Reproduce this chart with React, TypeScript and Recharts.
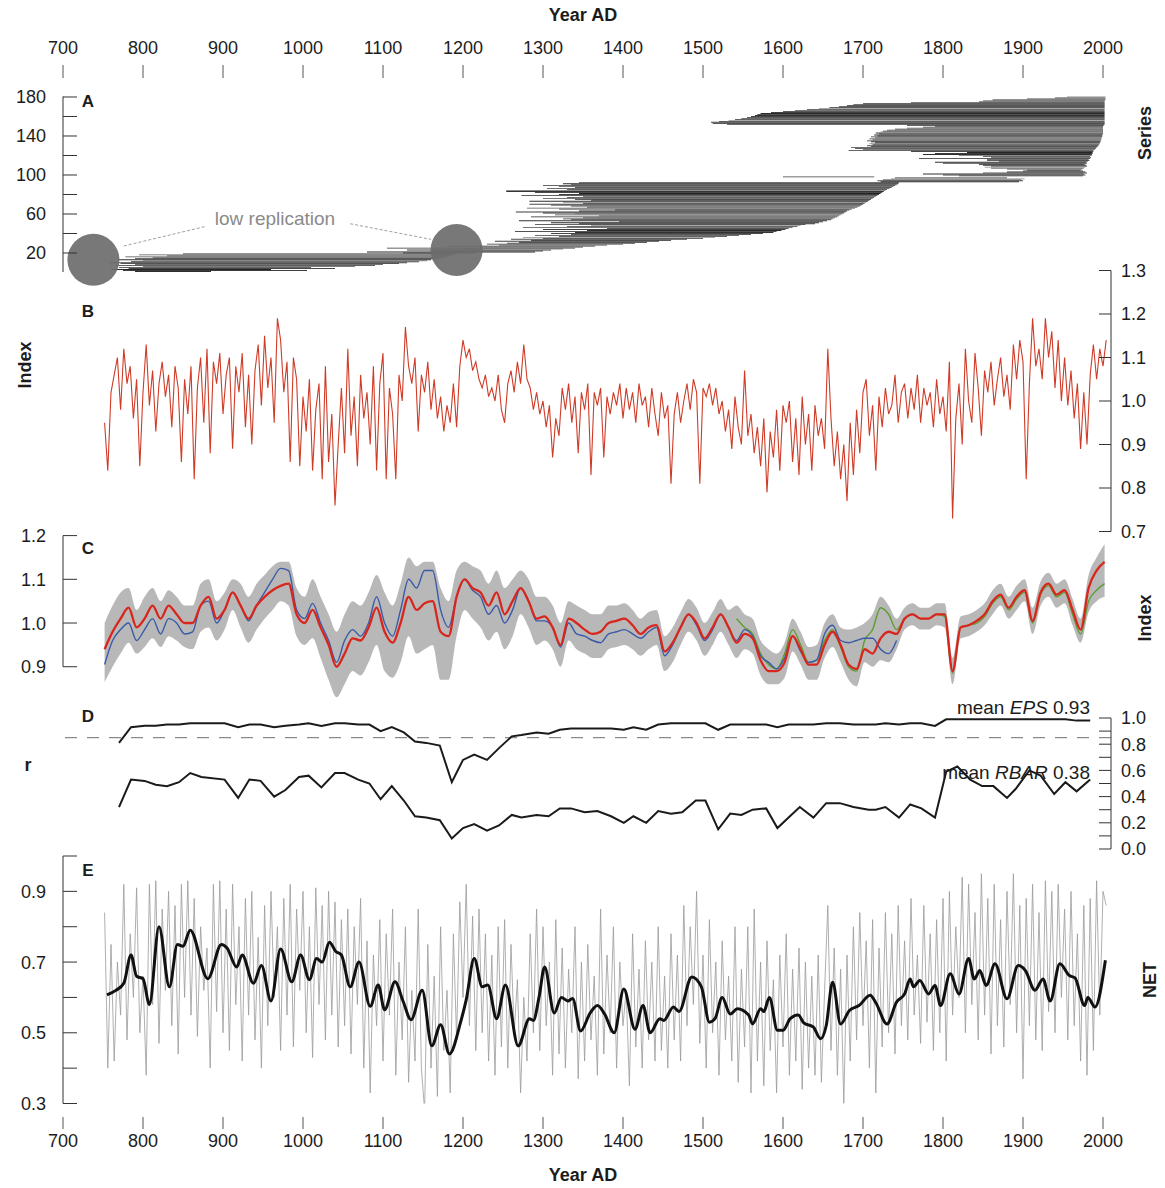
import React from 'react';
import {
  BarChart,
  Bar,
  Cell,
  ComposedChart,
  Line,
  Area,
  XAxis,
  YAxis,
  ReferenceLine,
  ReferenceDot,
} from 'recharts';

const FONT = '"Liberation Sans", Arial, Helvetica, sans-serif';
const INK = '#1c1c1c';
const AXIS = '#333';
const W = 1165;
const X_DOMAIN: [number, number] = [700, 2010];
const LEFT_AXIS_X = 63;
const RIGHT_AXIS_X = 1111;

const yearTicks = [700, 800, 900, 1000, 1100, 1200, 1300, 1400, 1500, 1600, 1700, 1800, 1900, 2000];

// A: first / last year of every series, from series 1 (bottom) to 180 (top)
const seriesStart = [
  790, 775, 760, 782, 770, 800, 765, 790, 772, 758,
  785, 800, 768, 790, 812, 778, 830, 795, 850, 1125,
  1080, 1160, 1130, 1200, 1105, 1220, 1180, 1245, 1230, 1255,
  1270, 1240, 1285, 1260, 1300, 1275, 1320, 1290, 1335, 1310,
  1340, 1265, 1355, 1300, 1380, 1275, 1330, 1360, 1290, 1345,
  1310, 1395, 1270, 1335, 1325, 1350, 1285, 1370, 1315, 1340,
  1300, 1266, 1345, 1390, 1320, 1280, 1355, 1335, 1310, 1283,
  1350, 1325, 1283, 1360, 1340, 1300, 1330, 1350, 1273, 1320,
  1345, 1290, 1254, 1254, 1330, 1305, 1340, 1320, 1300, 1335,
  1325, 1345, 1722, 1718, 1725, 1735, 1740, 1600, 1820, 1800,
  1775, 1850, 1880, 1900, 1905, 1880, 1860, 1852, 1860, 1850,
  1845, 1800, 1790, 1870, 1855, 1855, 1770, 1860, 1850, 1820,
  1775, 1790, 1830, 1760, 1682, 1700, 1690, 1685, 1710, 1705,
  1712, 1708, 1715, 1710, 1705, 1712, 1708, 1715, 1710, 1718,
  1714, 1720, 1716, 1722, 1725, 1730, 1740, 1755, 1775, 1790,
  1755, 1530, 1512, 1510, 1520, 1532, 1540, 1548, 1555, 1560,
  1565, 1568, 1572, 1585, 1600, 1615, 1630, 1645, 1658, 1670,
  1680, 1688, 1700, 1760, 1845, 1850, 1862, 1905, 1940, 1955,
];
const seriesEnd = [
  885, 1005, 960, 1040, 1010, 1065, 1090, 1100, 1120, 1130,
  1145, 1155, 1160, 1168, 1175, 1180, 1185, 1188, 1192, 1215,
  1290, 1300, 1310, 1325, 1340, 1350, 1365, 1380, 1400, 1415,
  1430, 1445, 1460, 1480, 1500, 1515, 1530, 1545, 1560, 1575,
  1588, 1592, 1598, 1603, 1607, 1612, 1618, 1622, 1628, 1640,
  1645, 1650, 1655, 1660, 1662, 1665, 1668, 1670, 1672, 1674,
  1676, 1678, 1680, 1683, 1686, 1690, 1693, 1696, 1698, 1700,
  1702, 1704, 1706, 1708, 1710, 1712, 1714, 1716, 1718, 1720,
  1722, 1724, 1726, 1728, 1730, 1733, 1736, 1738, 1740, 1742,
  1744, 1745, 1895, 1900, 1898, 1902, 1880, 1714, 1975, 1978,
  1976, 1980, 1978, 1975, 1972, 1974, 1976, 1978, 1980, 1979,
  1977, 1980, 1979, 1981, 1983, 1982, 1984, 1985, 1984, 1986,
  1986, 1987, 1987, 1988, 1988, 1990, 1991, 1992, 1993, 1994,
  1995, 1996, 1996, 1997, 1997, 1998, 1998, 1998, 1999, 1999,
  1999, 2000, 2000, 2000, 2000, 2000, 2000, 2000, 2000, 2000,
  2001, 2002, 2002, 2002, 2002, 2002, 2002, 2002, 2002, 2002,
  2002, 2002, 2002, 2002, 2002, 2002, 2002, 2002, 2002, 2002,
  2002, 2002, 2002, 2002, 2002, 2002, 2003, 2003, 2003, 2003,
];
const barShades = ['#2e2e2e', '#3c3c3c', '#262626', '#474747', '#333333', '#525252', '#2b2b2b', '#404040', '#222222', '#4a4a4a', '#363636', '#8a8a8a'];

// B: chronology index, every 4th year from 752
const INDEX_START = 752;
const INDEX_STEP = 4;
const indexValues = [
  0.95, 0.84, 1.02, 1.06, 1.10, 0.98, 1.12, 1.04, 1.08, 0.96, 1.05, 0.85, 1.02, 1.13, 0.99, 1.07, 0.93, 1.04, 1.09, 1.01, 1.06, 0.94, 1.08, 1.03, 0.86,
  1.05, 0.97, 1.08, 0.82, 1.03, 1.10, 0.95, 1.12, 0.88, 1.09, 1.04, 1.11, 0.97, 1.06, 1.10, 0.89, 1.08, 1.02, 1.11, 0.94, 1.06, 0.90, 1.07, 1.13, 0.99,
  1.15, 1.03, 1.10, 0.95, 1.19, 1.14, 1.02, 1.09, 0.86, 1.10, 1.05, 0.85, 1.01, 0.93, 1.05, 0.84, 0.98, 1.04, 0.82, 1.08, 0.86, 0.97, 0.76, 0.90, 1.03,
  0.88, 1.12, 0.92, 1.01, 0.85, 1.06, 0.96, 1.02, 0.90, 1.08, 0.84, 1.04, 1.11, 0.82, 1.03, 0.97, 0.82, 1.06, 1.00, 1.17, 1.08, 1.04, 1.10, 0.93, 1.06,
  1.02, 1.09, 0.98, 1.05, 0.96, 1.01, 0.93, 0.99, 0.95, 1.04, 0.94, 1.08, 1.14, 1.10, 1.12, 1.07, 1.09, 1.05, 1.03, 1.06, 1.01, 1.03, 1.00, 1.06, 0.98,
  0.95, 1.04, 1.07, 1.02, 1.09, 1.04, 1.13, 1.05, 1.03, 0.98, 1.02, 0.97, 1.00, 0.94, 0.99, 0.87, 0.96, 0.92, 1.03, 0.98, 1.04, 0.95, 1.01, 0.88, 1.02,
  0.98, 1.04, 0.83, 1.02, 0.99, 1.03, 0.87, 1.01, 0.97, 1.02, 0.99, 1.04, 0.96, 1.03, 0.98, 1.02, 0.95, 1.04, 0.99, 1.01, 0.94, 1.03, 0.97, 0.92, 1.02,
  0.96, 0.99, 0.81, 0.97, 1.02, 0.95, 1.00, 1.04, 0.98, 1.05, 1.02, 0.81, 1.03, 1.01, 1.04, 0.99, 1.03, 0.97, 1.00, 0.93, 0.98, 0.89, 1.01, 0.94, 0.90,
  1.07, 0.92, 0.97, 0.88, 0.94, 0.85, 0.96, 0.79, 0.93, 0.87, 0.98, 0.84, 0.99, 0.95, 1.00, 0.86, 0.96, 0.83, 1.01, 0.90, 0.97, 0.84, 0.99, 0.92, 0.96,
  0.89, 1.12, 0.96, 0.85, 0.93, 0.82, 0.90, 0.77, 0.95, 0.83, 0.98, 0.88, 1.02, 1.05, 0.92, 0.99, 0.84, 1.01, 0.94, 1.03, 0.97, 0.99, 1.06, 0.95, 1.02,
  1.04, 0.96, 1.03, 0.98, 1.06, 0.95, 1.03, 0.99, 1.02, 0.94, 1.05, 0.97, 1.01, 0.93, 1.09, 0.73, 0.96, 1.04, 0.90, 1.12, 1.00, 0.95, 1.11, 1.03, 0.92,
  1.07, 1.02, 1.09, 0.99, 1.05, 1.10, 1.01, 1.06, 0.98, 1.13, 1.05, 1.14, 1.09, 0.82, 1.04, 1.19, 1.08, 1.12, 1.05, 1.19, 1.10, 1.16, 1.03, 1.14, 1.00,
  1.10, 0.99, 1.07, 0.96, 1.04, 0.89, 1.02, 0.90, 1.06, 1.13, 1.05, 1.12, 1.08, 1.14,
];

// C: smoothed chronologies, every 10th year from 752
const SMOOTH_START = 752;
const SMOOTH_STEP = 10;
const rcsRed = [
  0.94, 0.98, 1.01, 1.035, 0.99, 1.01, 1.04, 1.01, 1.04, 1.02,
  1.00, 1.00, 1.04, 1.06, 1.01, 1.03, 1.07, 1.04, 1.01, 1.04,
  1.06, 1.075, 1.085, 1.09, 1.02, 1.00, 1.03, 0.99, 0.95, 0.90,
  0.93, 0.965, 0.96, 0.99, 1.035, 0.98, 0.955, 1.00, 1.06, 1.03,
  1.045, 1.05, 0.98, 0.97, 1.06, 1.10, 1.08, 1.07, 1.04, 1.07,
  1.02, 1.05, 1.08, 1.05, 1.01, 1.015, 0.99, 0.95, 1.01, 1.00,
  0.985, 0.975, 0.98, 1.00, 1.005, 1.01, 0.995, 0.975, 0.99, 0.995,
  0.935, 0.955, 0.99, 1.02, 1.00, 0.965, 0.99, 1.02, 0.99, 0.955,
  0.975, 0.965, 0.915, 0.89, 0.89, 0.91, 0.97, 0.94, 0.905, 0.905,
  0.95, 0.98, 0.95, 0.905, 0.895, 0.94, 0.93, 0.965, 0.98, 0.975,
  1.01, 1.02, 1.01, 1.01, 1.02, 1.02, 0.89, 0.99, 0.995, 1.005,
  1.02, 1.05, 1.065, 1.035, 1.06, 1.075, 1.005, 1.07, 1.09, 1.065,
  1.075, 1.03, 0.985, 1.08, 1.12, 1.14,
];
const rcsBlue = [
  0.905, 0.96, 0.985, 1.00, 0.96, 0.985, 1.01, 0.975, 1.01, 1.00,
  0.975, 0.98, 1.04, 1.05, 1.00, 1.03, 1.07, 1.04, 1.005, 1.04,
  1.07, 1.10, 1.125, 1.12, 1.03, 1.01, 1.045, 1.00, 0.96, 0.91,
  0.96, 0.985, 0.97, 1.00, 1.06, 1.00, 0.97, 1.03, 1.10, 1.08,
  1.12, 1.12, 1.03, 0.99, 1.06, 1.10, 1.075, 1.06, 1.02, 1.04,
  1.00, 1.03, 1.08, 1.05, 1.005, 1.005, 0.99, 0.945, 1.00, 0.975,
  0.97, 0.96, 0.955, 0.975, 0.98, 0.985, 0.975, 0.965, 0.98, 0.99,
  0.925, 0.95, 0.99, 1.02, 0.995, 0.96, 0.985, 1.02, 0.99, 0.96,
  0.985, 0.97, 0.925, 0.91, 0.895, 0.92, 0.97, 0.935, 0.91, 0.915,
  0.975, 0.995, 0.96, 0.955, 0.96, 0.965, 0.965, 0.94, 0.93, 0.96,
];
const GREEN_START = 1542;
const rcsGreen = [
  1.01,
  0.99, 0.975, 0.93, 0.905, 0.895, 0.93, 0.985, 0.95, 0.91, 0.915,
  0.96, 0.985, 0.945, 0.90, 0.89, 0.96, 0.985, 1.035, 1.02, 0.985,
  1.01, 1.02, 1.01, 1.01, 1.02, 1.015, 0.885, 0.99, 0.995, 1.00,
  1.015, 1.045, 1.06, 1.03, 1.055, 1.07, 1.00, 1.065, 1.085, 1.06,
  1.07, 1.02, 0.975, 1.05, 1.075, 1.09,
];
const bandLow = [
  0.865, 0.90, 0.93, 0.955, 0.93, 0.945, 0.965, 0.945, 0.97, 0.96,
  0.945, 0.94, 0.98, 0.99, 0.96, 0.985, 1.03, 0.99, 0.955, 0.985,
  1.01, 1.03, 1.05, 1.04, 0.97, 0.95, 0.965, 0.92, 0.87, 0.83,
  0.86, 0.89, 0.88, 0.91, 0.95, 0.89, 0.875, 0.91, 0.97, 0.93,
  0.94, 0.95, 0.87, 0.87, 0.97, 1.03, 1.01, 0.99, 0.96, 0.98,
  0.94, 0.97, 1.02, 0.99, 0.95, 0.96, 0.94, 0.90, 0.96, 0.94,
  0.93, 0.92, 0.92, 0.94, 0.945, 0.95, 0.94, 0.925, 0.94, 0.95,
  0.89, 0.91, 0.95, 0.98, 0.96, 0.925, 0.95, 0.98, 0.95, 0.92,
  0.94, 0.93, 0.88, 0.86, 0.86, 0.875, 0.935, 0.905, 0.87, 0.87,
  0.92, 0.945, 0.91, 0.87, 0.855, 0.91, 0.90, 0.915, 0.91, 0.94,
  0.985, 0.995, 0.985, 0.985, 0.995, 0.99, 0.86, 0.965, 0.97, 0.98,
  0.995, 1.02, 1.04, 1.01, 1.03, 1.05, 0.975, 1.04, 1.06, 1.035,
  1.045, 0.995, 0.955, 1.025, 1.05, 1.06,
];
const bandHigh = [
  1.00, 1.04, 1.07, 1.08, 1.03, 1.06, 1.08, 1.05, 1.075, 1.06,
  1.04, 1.04, 1.09, 1.10, 1.05, 1.07, 1.10, 1.09, 1.06, 1.09,
  1.11, 1.13, 1.14, 1.14, 1.08, 1.06, 1.10, 1.06, 1.02, 0.98,
  1.02, 1.05, 1.04, 1.07, 1.11, 1.07, 1.04, 1.09, 1.15, 1.13,
  1.14, 1.14, 1.08, 1.05, 1.12, 1.14, 1.13, 1.12, 1.09, 1.12,
  1.08, 1.10, 1.12, 1.10, 1.06, 1.06, 1.04, 1.00, 1.05, 1.04,
  1.03, 1.02, 1.02, 1.04, 1.04, 1.045, 1.03, 1.01, 1.025, 1.03,
  0.97, 0.99, 1.025, 1.055, 1.035, 1.00, 1.025, 1.055, 1.03, 1.04,
  1.02, 1.01, 0.96, 0.94, 0.93, 0.955, 1.01, 0.98, 0.945, 0.95,
  1.00, 1.02, 0.99, 0.985, 0.99, 1.00, 1.02, 1.06, 1.04, 1.01,
  1.035, 1.045, 1.035, 1.035, 1.045, 1.045, 0.92, 1.015, 1.02, 1.03,
  1.045, 1.075, 1.09, 1.06, 1.085, 1.10, 1.035, 1.095, 1.115, 1.09,
  1.10, 1.055, 1.01, 1.11, 1.15, 1.18,
];

// D: running signal statistics
const statYears = [
  770, 785, 802, 816, 830, 845, 859, 873, 902, 919,
  933, 947, 964, 978, 995, 1007, 1023, 1040, 1052, 1069,
  1083, 1097, 1111, 1126, 1140, 1154, 1171, 1186, 1200, 1214,
  1230, 1245, 1261, 1273, 1292, 1307, 1321, 1335, 1352, 1368,
  1385, 1401, 1413, 1429, 1444, 1460, 1474, 1491, 1503, 1519,
  1534, 1548, 1562, 1579, 1593, 1607, 1621, 1638, 1654, 1671,
  1688, 1707, 1716, 1728, 1745, 1759, 1773, 1790, 1804, 1818,
  1834, 1849, 1863, 1880, 1891, 1908, 1922, 1939, 1953, 1967,
  1984,
];
const eps = [
  0.81, 0.93, 0.94, 0.94, 0.95, 0.95, 0.96, 0.96, 0.96, 0.93,
  0.95, 0.95, 0.93, 0.94, 0.95, 0.96, 0.94, 0.96, 0.96, 0.95,
  0.95, 0.90, 0.93, 0.89, 0.82, 0.81, 0.79, 0.51, 0.68, 0.72,
  0.68, 0.77, 0.86, 0.87, 0.89, 0.88, 0.91, 0.92, 0.92, 0.92,
  0.92, 0.91, 0.93, 0.91, 0.95, 0.96, 0.96, 0.96, 0.96, 0.91,
  0.95, 0.95, 0.95, 0.95, 0.93, 0.95, 0.95, 0.95, 0.96, 0.96,
  0.95, 0.95, 0.95, 0.96, 0.95, 0.96, 0.96, 0.94, 0.99, 0.99,
  0.99, 0.99, 0.99, 0.99, 0.99, 0.99, 0.99, 0.99, 0.99, 0.98,
  0.98,
];
const rbar = [
  0.32, 0.53, 0.52, 0.49, 0.48, 0.51, 0.58, 0.55, 0.53, 0.39,
  0.53, 0.52, 0.40, 0.45, 0.55, 0.56, 0.47, 0.58, 0.58, 0.53,
  0.50, 0.38, 0.48, 0.37, 0.25, 0.24, 0.22, 0.08, 0.16, 0.19,
  0.14, 0.18, 0.26, 0.24, 0.26, 0.25, 0.31, 0.31, 0.28, 0.29,
  0.25, 0.20, 0.25, 0.20, 0.29, 0.27, 0.28, 0.37, 0.37, 0.15,
  0.27, 0.26, 0.30, 0.31, 0.16, 0.24, 0.32, 0.24, 0.35, 0.35,
  0.32, 0.30, 0.30, 0.32, 0.24, 0.34, 0.31, 0.24, 0.59, 0.63,
  0.53, 0.48, 0.48, 0.39, 0.46, 0.60, 0.56, 0.42, 0.51, 0.44,
  0.53,
];

// E: NET, every 4th year from 752, and its smoothed version
const NET_START = 752;
const NET_STEP = 4;
const netAnnual = [
  0.84, 0.40, 0.75, 0.42, 0.70, 0.55, 0.92, 0.48, 0.78, 0.60, 0.91, 0.50, 0.66, 0.38, 0.92, 0.58, 0.93, 0.47, 0.85, 0.62, 0.90, 0.52, 0.86, 0.44, 0.92,
  0.60, 0.93, 0.55, 0.88, 0.49, 0.80, 0.62, 0.74, 0.40, 0.92, 0.56, 0.93, 0.50, 0.85, 0.45, 0.92, 0.58, 0.80, 0.42, 0.88, 0.55, 0.90, 0.48, 0.77, 0.40,
  0.86, 0.52, 0.90, 0.60, 0.80, 0.45, 0.88, 0.55, 0.92, 0.46, 0.85, 0.62, 0.90, 0.50, 0.80, 0.43, 0.91, 0.58, 0.86, 0.48, 0.90, 0.55, 0.87, 0.46, 0.82,
  0.52, 0.85, 0.44, 0.80, 0.58, 0.88, 0.40, 0.76, 0.33, 0.72, 0.52, 0.82, 0.42, 0.78, 0.55, 0.85, 0.38, 0.70, 0.48, 0.80, 0.36, 0.62, 0.42, 0.85, 0.40,
  0.28, 0.75, 0.40, 0.66, 0.32, 0.80, 0.45, 0.62, 0.33, 0.78, 0.48, 0.87, 0.60, 0.92, 0.52, 0.83, 0.45, 0.85, 0.50, 0.78, 0.42, 0.72, 0.38, 0.80, 0.46,
  0.82, 0.40, 0.75, 0.50, 0.65, 0.33, 0.60, 0.42, 0.78, 0.50, 0.85, 0.45, 0.80, 0.52, 0.70, 0.38, 0.82, 0.44, 0.74, 0.40, 0.68, 0.50, 0.80, 0.37, 0.70,
  0.42, 0.75, 0.48, 0.66, 0.38, 0.85, 0.44, 0.72, 0.50, 0.80, 0.40, 0.70, 0.52, 0.62, 0.35, 0.78, 0.46, 0.68, 0.40, 0.76, 0.48, 0.70, 0.42, 0.80, 0.45,
  0.66, 0.40, 0.78, 0.48, 0.72, 0.42, 0.86, 0.52, 0.80, 0.58, 0.90, 0.47, 0.72, 0.40, 0.82, 0.50, 0.70, 0.38, 0.76, 0.48, 0.66, 0.42, 0.80, 0.36, 0.68,
  0.46, 0.80, 0.33, 0.85, 0.42, 0.70, 0.35, 0.76, 0.45, 0.65, 0.33, 0.72, 0.46, 0.78, 0.38, 0.68, 0.42, 0.74, 0.34, 0.70, 0.40, 0.66, 0.38, 0.72, 0.36,
  0.62, 0.86, 0.45, 0.74, 0.38, 0.68, 0.30, 0.72, 0.42, 0.80, 0.48, 0.84, 0.52, 0.76, 0.40, 0.82, 0.33, 0.74, 0.46, 0.84, 0.50, 0.78, 0.44, 0.86, 0.52,
  0.76, 0.48, 0.88, 0.55, 0.72, 0.47, 0.86, 0.53, 0.78, 0.45, 0.82, 0.50, 0.88, 0.42, 0.90, 0.55, 0.80, 0.60, 0.94, 0.50, 0.92, 0.58, 0.84, 0.48, 0.95,
  0.55, 0.88, 0.44, 0.92, 0.52, 0.82, 0.46, 0.90, 0.58, 0.95, 0.50, 0.86, 0.37, 0.88, 0.52, 0.92, 0.48, 0.84, 0.45, 0.93, 0.56, 0.90, 0.50, 0.92, 0.60,
  0.85, 0.48, 0.90, 0.52, 0.78, 0.42, 0.86, 0.38, 0.88, 0.45, 0.93, 0.55, 0.90, 0.86,
];
const netSmoothYears = [
  755, 766, 776, 785, 792, 800, 808, 820, 833, 843,
  850, 859, 881, 898, 905, 917, 924, 938, 948, 960,
  972, 986, 997, 1008, 1017, 1024, 1033, 1041, 1048, 1059,
  1070, 1084, 1094, 1102, 1115, 1125, 1135, 1149, 1161, 1172,
  1183, 1197, 1204, 1214, 1224, 1231, 1242, 1253, 1269, 1283,
  1288, 1295, 1302, 1314, 1323, 1331, 1337, 1347, 1359, 1368,
  1377, 1389, 1401, 1415, 1425, 1434, 1446, 1451, 1463, 1470,
  1486, 1498, 1508, 1515, 1524, 1534, 1543, 1557, 1562, 1572,
  1576, 1583, 1593, 1600, 1609, 1619, 1626, 1638, 1647, 1654,
  1662, 1672, 1683, 1695, 1709, 1716, 1730, 1742, 1752, 1759,
  1763, 1771, 1782, 1790, 1797, 1809, 1820, 1832, 1839, 1846,
  1854, 1865, 1880, 1894, 1903, 1915, 1925, 1934, 1946, 1958,
  1965, 1977, 1981, 1990, 2003,
];
const netSmooth = [
  0.607, 0.62, 0.64, 0.72, 0.66, 0.653, 0.58, 0.80, 0.63, 0.75,
  0.745, 0.79, 0.653, 0.75, 0.74, 0.686, 0.72, 0.64, 0.69, 0.59,
  0.737, 0.644, 0.72, 0.65, 0.71, 0.70, 0.756, 0.73, 0.72, 0.63,
  0.70, 0.575, 0.635, 0.565, 0.644, 0.59, 0.537, 0.62, 0.463, 0.523,
  0.44, 0.53, 0.593, 0.71, 0.63, 0.635, 0.54, 0.635, 0.463, 0.54,
  0.535, 0.60, 0.686, 0.556, 0.60, 0.59, 0.597, 0.505, 0.556, 0.577,
  0.553, 0.50, 0.624, 0.51, 0.577, 0.50, 0.54, 0.535, 0.573, 0.56,
  0.658, 0.63, 0.53, 0.54, 0.60, 0.553, 0.568, 0.55, 0.525, 0.568,
  0.56, 0.60, 0.507, 0.507, 0.54, 0.55, 0.528, 0.516, 0.483, 0.52,
  0.643, 0.525, 0.563, 0.577, 0.606, 0.585, 0.525, 0.587, 0.61, 0.652,
  0.63, 0.648, 0.61, 0.634, 0.577, 0.667, 0.61, 0.71, 0.652, 0.676,
  0.634, 0.695, 0.596, 0.69, 0.676, 0.62, 0.652, 0.59, 0.695, 0.662,
  0.655, 0.577, 0.60, 0.573, 0.705,
];

// tables for the charts
const seriesRows = seriesStart.map((s, i) => ({ s: i + 1, range: [s, seriesEnd[i]] }));
const indexRows = indexValues.map((v, i) => ({ year: INDEX_START + i * INDEX_STEP, v }));
const greenOffset = (GREEN_START - SMOOTH_START) / SMOOTH_STEP;
const smoothRows = rcsRed.map((v, i) => ({
  year: SMOOTH_START + i * SMOOTH_STEP,
  red: v,
  blue: i < rcsBlue.length ? rcsBlue[i] : null,
  green: i >= greenOffset ? rcsGreen[i - greenOffset] : null,
  band: [bandLow[i], bandHigh[i]],
}));
const statRows = statYears.map((y, i) => ({ year: y, eps: eps[i], rbar: rbar[i] }));
const netRows = (() => {
  const m = new Map<number, any>();
  netAnnual.forEach((v, i) => {
    const y = NET_START + i * NET_STEP;
    m.set(y, { year: y, annual: v });
  });
  netSmoothYears.forEach((y, i) => {
    const r = m.get(y) || { year: y };
    r.smooth = netSmooth[i];
    m.set(y, r);
  });
  return Array.from(m.values()).sort((a, b) => a.year - b.year);
})();

const tickText = { fontSize: 18, fontFamily: FONT, fill: INK };

const TopYearTick = (p: any) => (
  <g>
    <line x1={p.x} x2={p.x} y1={65} y2={78} stroke="#555" />
    <text x={p.x} y={54} textAnchor="middle" {...tickText}>{p.payload.value}</text>
  </g>
);

const BottomYearTick = (p: any) => (
  <g>
    <line x1={p.x} x2={p.x} y1={267} y2={279} stroke="#555" />
    <text x={p.x} y={297} textAnchor="middle" {...tickText}>{p.payload.value}</text>
  </g>
);

const SeriesTick = (p: any) => {
  const v = Number(p.payload.value);
  if (v % 20 !== 0) return <g />;
  return (
    <g>
      <line x1={LEFT_AXIS_X} x2={LEFT_AXIS_X + 14} y1={p.y} y2={p.y} stroke={AXIS} />
      {v % 40 === 20 && (
        <text x={46} y={p.y} dy="0.36em" textAnchor="end" {...tickText}>{v}</text>
      )}
    </g>
  );
};

function leftTick(show: (v: number) => boolean) {
  return (p: any) => {
    const v = Number(p.payload.value);
    return (
      <g>
        <line x1={LEFT_AXIS_X} x2={LEFT_AXIS_X + 14} y1={p.y} y2={p.y} stroke={AXIS} />
        {show(v) && (
          <text x={46} y={p.y} dy="0.36em" textAnchor="end" {...tickText}>{v.toFixed(1)}</text>
        )}
      </g>
    );
  };
}

function rightTick(show: (v: number) => boolean) {
  return (p: any) => {
    const v = Number(p.payload.value);
    return (
      <g>
        <line x1={RIGHT_AXIS_X - 12} x2={RIGHT_AXIS_X} y1={p.y} y2={p.y} stroke={AXIS} />
        {show(v) && (
          <text x={1121} y={p.y} dy="0.36em" textAnchor="start" {...tickText}>{v.toFixed(1)}</text>
        )}
      </g>
    );
  };
}

function Txt({ x, y, children, rotate = false, bold = true, size = 18, color = INK, align = 'center' }: any) {
  const tx = align === 'center' ? '-50%' : align === 'right' ? '-100%' : '0';
  return (
    <div
      style={{
        position: 'absolute',
        left: x,
        top: y,
        transform: `translate(${tx}, -50%)${rotate ? ' rotate(-90deg)' : ''}`,
        whiteSpace: 'nowrap',
        fontWeight: bold ? 700 : 400,
        fontSize: size,
        color,
        lineHeight: 1,
        fontFamily: FONT,
      }}
    >
      {children}
    </div>
  );
}

const place = (top: number): React.CSSProperties => ({ position: 'absolute', left: 0, top });

export default function App() {
  return (
    <div style={{ position: 'absolute', left: 0, top: 0, width: W, height: 1188, background: '#fff', fontFamily: FONT }}>
      {/* A: series coverage */}
      <div style={place(0)}>
        <BarChart
          width={W}
          height={292}
          data={seriesRows}
          layout="vertical"
          barCategoryGap={0}
          barGap={0}
          margin={{ top: 66.5, right: 54, bottom: 20, left: 13 }}
        >
          <XAxis
            type="number"
            orientation="top"
            domain={X_DOMAIN}
            allowDataOverflow
            ticks={yearTicks}
            interval={0}
            height={30}
            axisLine={false}
            tickLine={false}
            tick={TopYearTick}
          />
          <YAxis
            type="category"
            dataKey="s"
            reversed
            width={50}
            interval={0}
            axisLine={{ stroke: AXIS }}
            tickLine={false}
            tickSize={0}
            tickMargin={0}
            tick={SeriesTick}
          />
          <Bar dataKey="range" barSize={2} isAnimationActive={false}>
            {seriesRows.map((r, i) => (
              <Cell key={r.s} fill={barShades[i % barShades.length]} />
            ))}
          </Bar>
          <ReferenceDot x={738} y={13} r={26} fill="#6c6c6c" fillOpacity={0.92} stroke="none" />
          <ReferenceDot x={1192} y={23} r={26} fill="#6c6c6c" fillOpacity={0.92} stroke="none" />
          <ReferenceLine segment={[{ x: 877, y: 47 }, { x: 775, y: 27 }]} stroke="#a0a0a0" strokeDasharray="3 2" />
          <ReferenceLine segment={[{ x: 1059, y: 50 }, { x: 1160, y: 34 }]} stroke="#a0a0a0" strokeDasharray="3 2" />
        </BarChart>
      </div>

      {/* B: annual index */}
      <div style={place(262)}>
        <ComposedChart width={W} height={280} data={indexRows} margin={{ top: 8.5, right: 4, bottom: 10.5, left: 63 }}>
          <XAxis type="number" dataKey="year" domain={X_DOMAIN} allowDataOverflow hide />
          <YAxis
            orientation="right"
            domain={[0.7, 1.3]}
            allowDataOverflow
            ticks={[0.7, 0.8, 0.9, 1.0, 1.1, 1.2, 1.3]}
            interval={0}
            width={50}
            axisLine={{ stroke: AXIS }}
            tickLine={false}
            tickSize={0}
            tick={rightTick(() => true)}
          />
          <Line type="linear" dataKey="v" stroke="#cf3b26" strokeWidth={1.1} dot={false} activeDot={false} isAnimationActive={false} />
        </ComposedChart>
      </div>

      {/* C: smoothed index with uncertainty */}
      <div style={place(518)}>
        <ComposedChart width={W} height={192} data={smoothRows} margin={{ top: 17.6, right: 54, bottom: 8.3, left: 13 }}>
          <XAxis type="number" dataKey="year" domain={X_DOMAIN} allowDataOverflow hide />
          <YAxis
            domain={[0.82, 1.2]}
            allowDataOverflow
            ticks={[0.9, 1.0, 1.1, 1.2]}
            interval={0}
            width={50}
            axisLine={false}
            tickLine={false}
            tickSize={0}
            tick={leftTick(() => true)}
          />
          <ReferenceLine segment={[{ x: 700, y: 0.9 }, { x: 700, y: 1.2 }]} stroke={AXIS} />
          <Area type="monotone" dataKey="band" fill="#b8b8b8" fillOpacity={1} stroke="none" isAnimationActive={false} activeDot={false} />
          <Line type="monotone" dataKey="green" stroke="#5c9e32" strokeWidth={1.4} dot={false} activeDot={false} isAnimationActive={false} />
          <Line type="monotone" dataKey="blue" stroke="#3a5aa8" strokeWidth={1.4} dot={false} activeDot={false} isAnimationActive={false} />
          <Line type="monotone" dataKey="red" stroke="#d9261c" strokeWidth={2.3} dot={false} activeDot={false} isAnimationActive={false} />
        </ComposedChart>
      </div>

      {/* D: EPS and RBAR */}
      <div style={place(705)}>
        <ComposedChart width={W} height={155} data={statRows} margin={{ top: 13, right: 4, bottom: 11, left: 63 }}>
          <XAxis type="number" dataKey="year" domain={X_DOMAIN} allowDataOverflow hide />
          <YAxis
            orientation="right"
            domain={[0, 1]}
            allowDataOverflow
            ticks={[0, 0.1, 0.2, 0.3, 0.4, 0.5, 0.6, 0.7, 0.8, 0.9, 1.0]}
            interval={0}
            width={50}
            axisLine={{ stroke: AXIS }}
            tickLine={false}
            tickSize={0}
            tick={rightTick((v) => Math.round(v * 10) % 2 === 0)}
          />
          <ReferenceLine y={0.85} stroke="#8a8a8a" strokeWidth={1.2} strokeDasharray="12 10" />
          <Line type="linear" dataKey="eps" stroke="#1a1a1a" strokeWidth={2} dot={false} activeDot={false} isAnimationActive={false} />
          <Line type="linear" dataKey="rbar" stroke="#1a1a1a" strokeWidth={2} dot={false} activeDot={false} isAnimationActive={false} />
        </ComposedChart>
      </div>

      {/* E: NET */}
      <div style={place(850)}>
        <ComposedChart width={W} height={338} data={netRows} margin={{ top: 6, right: 54, bottom: 24.5, left: 13 }}>
          <XAxis
            type="number"
            dataKey="year"
            domain={X_DOMAIN}
            allowDataOverflow
            ticks={yearTicks}
            interval={0}
            height={60}
            axisLine={false}
            tickLine={false}
            tickSize={0}
            tick={BottomYearTick}
          />
          <YAxis
            domain={[0.3, 1.0]}
            allowDataOverflow
            ticks={[0.3, 0.4, 0.5, 0.6, 0.7, 0.8, 0.9, 1.0]}
            interval={0}
            width={50}
            axisLine={{ stroke: AXIS }}
            tickLine={false}
            tickSize={0}
            tick={leftTick((v) => [3, 5, 7, 9].includes(Math.round(v * 10)))}
          />
          <Line type="linear" dataKey="annual" stroke="#9a9a9a" strokeWidth={0.8} dot={false} activeDot={false} connectNulls isAnimationActive={false} />
          <Line type="monotone" dataKey="smooth" stroke="#111" strokeWidth={3} dot={false} activeDot={false} connectNulls isAnimationActive={false} />
        </ComposedChart>
      </div>

      {/* titles and labels */}
      <Txt x={583} y={15}>Year AD</Txt>
      <Txt x={583} y={1175}>Year AD</Txt>
      <Txt x={1145} y={133} rotate>Series</Txt>
      <Txt x={25} y={365} rotate>Index</Txt>
      <Txt x={1145} y={618} rotate>Index</Txt>
      <Txt x={28} y={765}>r</Txt>
      <Txt x={1150} y={980} rotate>NET</Txt>
      <Txt x={88} y={101} size={17}>A</Txt>
      <Txt x={88} y={311} size={17}>B</Txt>
      <Txt x={88} y={548} size={17}>C</Txt>
      <Txt x={88} y={716} size={17}>D</Txt>
      <Txt x={88} y={870} size={17}>E</Txt>
      <Txt x={275} y={218} bold={false} size={19} color="#8a8a8a">low replication</Txt>
      <Txt x={1090} y={707} bold={false} size={19} align="right">
        mean <i>EPS</i> 0.93
      </Txt>
      <Txt x={1090} y={772} bold={false} size={19} align="right">
        mean <i>RBAR</i> 0.38
      </Txt>
    </div>
  );
}
